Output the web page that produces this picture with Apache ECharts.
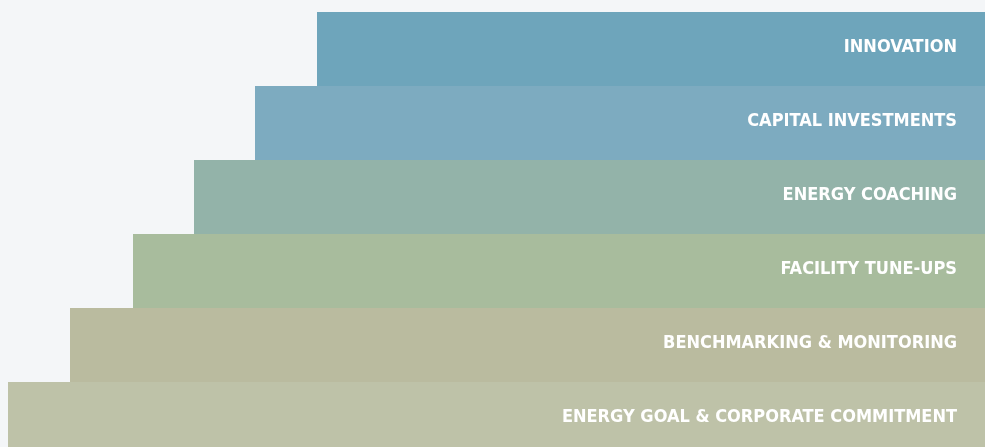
<!DOCTYPE html>
<html>
<head>
<meta charset="utf-8">
<script src="https://cdn.jsdelivr.net/npm/echarts@6/dist/echarts.min.js"></script>
<style>
html,body{margin:0;padding:0;background:#f4f6f8;overflow:hidden;}
#c{width:985px;height:456px;}
</style>
</head>
<body>
<div id="c"></div>
<script>
const categories = ['INNOVATION','CAPITAL INVESTMENTS','ENERGY COACHING','FACILITY TUNE-UPS','BENCHMARKING & MONITORING','ENERGY GOAL & CORPORATE COMMITMENT'];
const values = [668, 730, 791, 852, 915, 977];
const colors = ['#6ea5bb','#7dabc0','#93b3a9','#a8bc9d','#babb9f','#bec2a8'];

const chart = echarts.init(document.getElementById('c'));
chart.setOption({
  backgroundColor: '#f4f6f8',
  animation: false,
  grid: {left: 0, right: 0, top: 12, bottom: 0, containLabel: false},
  xAxis: {type: 'value', min: 0, max: 985, inverse: true, show: false},
  yAxis: {type: 'category', data: categories, inverse: true, show: false},
  series: [{
    type: 'bar',
    barWidth: '100%',
    barCategoryGap: 0,
    data: values.map((v, i) => ({value: v, itemStyle: {color: colors[i]}})),
    label: {
      show: true,
      position: 'insideRight',
      distance: 28,
      offset: [0, -2],
      formatter: p => p.name,
      color: '#ffffff',
      fontFamily: '"Liberation Sans Narrow", "DejaVu Sans Condensed", "Roboto Condensed", sans-serif',
      fontWeight: 'bold',
      fontSize: 18
    }
  }]
});
</script>
</body>
</html>
